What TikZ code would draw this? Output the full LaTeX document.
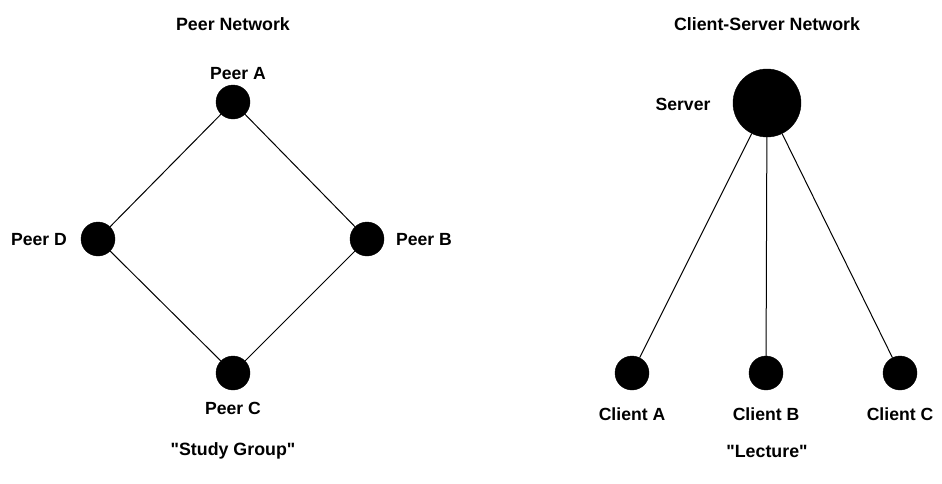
\documentclass[tikz,border=0pt]{standalone}
\usepackage{fontspec}
\setmainfont{Liberation Sans}[Ligatures=TeXOff]
\begin{document}
\begin{tikzpicture}[x=1pt,y=-1pt,
  dot/.style={circle,fill=black,draw=black,inner sep=0pt,minimum size=34pt},
  bigdot/.style={circle,fill=black,draw=black,inner sep=0pt,minimum size=68pt},
  lbl/.style={font=\fontsize{17.6}{20}\selectfont\bfseries,inner sep=0pt},
  ttl/.style={font=\fontsize{17.8}{20}\selectfont\bfseries,inner sep=0pt},
  link/.style={draw=black,line width=1pt}]
\useasboundingbox (0,0) rectangle (942,483);
\fill[white] (0,0) rectangle (942,483);
% Peer network
\node[ttl] (t1) at (233,24) {Peer Network};
\node[dot] (pa) at (233,102) {};
\node[dot] (pd) at (98,239) {};
\node[dot] (pb) at (367,239) {};
\node[dot] (pc) at (233,373) {};
\node[lbl] (la) at (238,74) {Peer A};
\node[lbl] (ld) at (39,240) {Peer D};
\node[lbl] (lb) at (424,240) {Peer B};
\node[lbl] (lc) at (233,408) {Peer C};
\draw[link] (pa) -- (pb);
\draw[link] (pa) -- (pd);
\draw[link] (pd) -- (pc);
\draw[link] (pb) -- (pc);
\node[ttl] (s1) at (233,451) {"Study Group"};
% Client-server
\node[ttl] (t2) at (767,24) {Client-Server Network};
\node[bigdot] (sv) at (767,103) {};
\node[lbl] (ls) at (683,104) {Server};
\node[dot] (ca) at (632,373) {};
\node[dot] (cb) at (766,373) {};
\node[dot] (cc) at (900,373) {};
\node[lbl] (lca) at (632,414) {Client A};
\node[lbl] (lcb) at (766,414) {Client B};
\node[lbl] (lcc) at (900,414) {Client C};
\draw[link] (sv) -- (ca);
\draw[link] (sv) -- (cb);
\draw[link] (sv) -- (cc);
\node[ttl] (s2) at (767,451) {"Lecture"};
\end{tikzpicture}
\end{document}
